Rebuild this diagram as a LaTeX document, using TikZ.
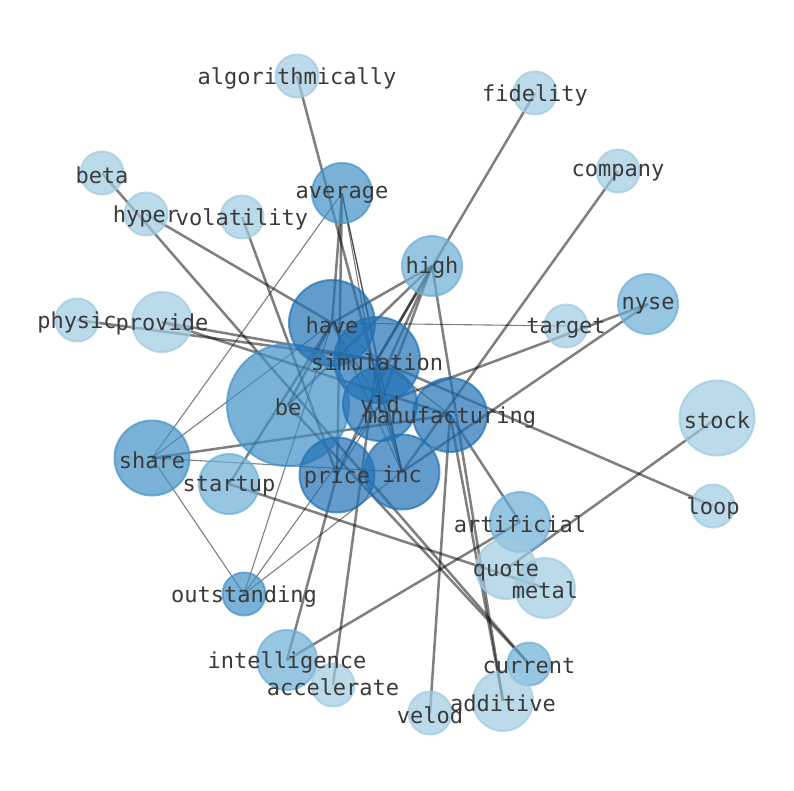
\documentclass[tikz,border=0pt]{standalone}
\usepackage{fontspec}
\newfontfamily\lbfont{DejaVu Sans Mono}
\usetikzlibrary{backgrounds}
\definecolor{Bone}{HTML}{9ECAE1}
\definecolor{Btwo}{HTML}{6BAED6}
\definecolor{Bthree}{HTML}{4292C6}
\definecolor{Bfour}{HTML}{2171B5}
\definecolor{txt}{RGB}{58,58,58}
\tikzset{
  nd/.style={circle, inner sep=0pt, line width=2pt, fill opacity=0.7, draw opacity=0.7},
  cone/.style={nd, fill=Bone, draw=Bone},
  ctwo/.style={nd, fill=Btwo, draw=Btwo},
  cthree/.style={nd, fill=Bthree, draw=Bthree},
  cfour/.style={nd, fill=Bfour, draw=Bfour},
  lbl/.style={font=\lbfont\fontsize{22}{24}\selectfont, text=txt, inner sep=0pt, yshift=-2pt},
  ek/.style={line width=2.5pt, draw=black, draw opacity=0.5},
  en/.style={line width=1.1pt, draw=black, draw opacity=0.5},
}
\begin{document}
\begin{tikzpicture}[x=1pt, y=-1pt]
\useasboundingbox (0,0) rectangle (794,790);
% nodes
\node[cone, minimum size=43pt] (algorithmically) at (297,76) {};
\node[cone, minimum size=43pt] (fidelity) at (535,93) {};
\node[cone, minimum size=43pt] (company) at (618,171) {};
\node[cone, minimum size=43pt] (beta) at (102,173) {};
\node[cone, minimum size=43pt] (hyper) at (146,214) {};
\node[cone, minimum size=43pt] (volatility) at (242,217) {};
\node[cthree, minimum size=60pt] (average) at (342,193) {};
\node[ctwo, minimum size=60pt] (high) at (432,266) {};
\node[ctwo, minimum size=60pt] (nyse) at (648,304) {};
\node[cone, minimum size=43pt] (target) at (566,326) {};
\node[cone, minimum size=43pt] (physic) at (77,320) {};
\node[cone, minimum size=60pt] (provide) at (162,322) {};
\node[cthree, minimum size=122pt] (be) at (288,405) {};
\node[cfour, minimum size=86pt] (have) at (332,323) {};
\node[cfour, minimum size=86pt] (simulation) at (377,360) {};
\node[cfour, minimum size=74pt] (yld) at (380,404) {};
\node[cfour, minimum size=74pt] (manufacturing) at (450,415) {};
\node[cone, minimum size=75pt] (stock) at (717,418) {};
\node[cthree, minimum size=75pt] (share) at (152,458) {};
\node[ctwo, minimum size=60pt] (startup) at (229,484) {};
\node[cfour, minimum size=75pt] (price) at (337,475) {};
\node[cfour, minimum size=75pt] (inc) at (402,472) {};
\node[cone, minimum size=43pt] (loop) at (713,506) {};
\node[ctwo, minimum size=60pt] (artificial) at (520,522) {};
\node[cone, minimum size=60pt] (quote) at (506,569) {};
\node[cone, minimum size=60pt] (metal) at (545,588) {};
\node[cthree, minimum size=43pt] (outstanding) at (244,594) {};
\node[ctwo, minimum size=60pt] (intelligence) at (287,660) {};
\node[cone, minimum size=43pt] (accelerate) at (333,685) {};
\node[ctwo, minimum size=43pt] (current) at (529,664) {};
\node[cone, minimum size=43pt] (velod) at (430,713) {};
\node[cone, minimum size=60pt] (additive) at (503,701) {};
% edges
\begin{pgfonlayer}{background}
\draw[ek] (algorithmically.center) -- (inc.center);
\draw[ek] (fidelity.center) -- (simulation.center);
\draw[ek] (company.center) -- (inc.center);
\draw[ek] (beta.center) -- (current.center);
\draw[ek] (hyper.center) -- (have.center);
\draw[ek] (volatility.center) -- (price.center);
\draw[ek] (physic.center) -- (simulation.center);
\draw[ek] (provide.center) -- (simulation.center);
\draw[ek] (provide.center) -- (manufacturing.center);
\draw[ek] (average.center) -- (have.center);
\draw[ek] (average.center) -- (price.center);
\draw[ek] (high.center) -- (have.center);
\draw[ek] (high.center) -- (be.center);
\draw[ek] (high.center) -- (yld.center);
\draw[ek] (high.center) -- (simulation.center);
\draw[ek] (high.center) -- (price.center);
\draw[ek] (high.center) -- (additive.center);
\draw[ek] (nyse.center) -- (yld.center);
\draw[ek] (nyse.center) -- (inc.center);
\draw[ek] (share.center) -- (manufacturing.center);
\draw[ek] (stock.center) -- (quote.center);
\draw[ek] (loop.center) -- (simulation.center);
\draw[ek] (startup.center) -- (metal.center);
\draw[ek] (startup.center) -- (have.center);
\draw[ek] (intelligence.center) -- (artificial.center);
\draw[ek] (intelligence.center) -- (price.center);
\draw[ek] (accelerate.center) -- (simulation.center);
\draw[ek] (velod.center) -- (manufacturing.center);
\draw[ek] (manufacturing.center) -- (additive.center);
\draw[ek] (manufacturing.center) -- (artificial.center);
\draw[ek] (be.center) -- (current.center);
\draw[ek] (have.center) -- (be.center);
\draw[ek] (simulation.center) -- (yld.center);
\draw[en] (average.center) -- (share.center);
\draw[en] (average.center) -- (yld.center);
\draw[en] (average.center) -- (inc.center);
\draw[en] (average.center) -- (simulation.center);
\draw[en] (share.center) -- (inc.center);
\draw[en] (share.center) -- (have.center);
\draw[en] (share.center) -- (outstanding.center);
\draw[en] (outstanding.center) -- (have.center);
\draw[en] (outstanding.center) -- (yld.center);
\draw[en] (outstanding.center) -- (inc.center);
\draw[en] (target.center) -- (have.center);
\draw[en] (have.center) -- (yld.center);
\draw[en] (have.center) -- (inc.center);
\draw[en] (have.center) -- (manufacturing.center);
\draw[en] (simulation.center) -- (inc.center);
\draw[en] (yld.center) -- (price.center);
\draw[en] (yld.center) -- (inc.center);
\end{pgfonlayer}
% labels
\node[lbl] (algorithmically-l) at (algorithmically) {algorithmically};
\node[lbl] (fidelity-l) at (fidelity) {fidelity};
\node[lbl] (company-l) at (company) {company};
\node[lbl] (beta-l) at (beta) {beta};
\node[lbl] (hyper-l) at (hyper) {hyper};
\node[lbl] (volatility-l) at (volatility) {volatility};
\node[lbl] (average-l) at (average) {average};
\node[lbl] (high-l) at (high) {high};
\node[lbl] (nyse-l) at (nyse) {nyse};
\node[lbl] (target-l) at (target) {target};
\node[lbl] (physic-l) at (physic) {physic};
\node[lbl] (provide-l) at (provide) {provide};
\node[lbl] (be-l) at (be) {be};
\node[lbl] (have-l) at (have) {have};
\node[lbl] (simulation-l) at (simulation) {simulation};
\node[lbl] (yld-l) at (yld) {yld};
\node[lbl] (manufacturing-l) at (manufacturing) {manufacturing};
\node[lbl] (stock-l) at (stock) {stock};
\node[lbl] (share-l) at (share) {share};
\node[lbl] (startup-l) at (startup) {startup};
\node[lbl] (price-l) at (price) {price};
\node[lbl] (inc-l) at (inc) {inc};
\node[lbl] (loop-l) at (loop) {loop};
\node[lbl] (artificial-l) at (artificial) {artificial};
\node[lbl] (quote-l) at (quote) {quote};
\node[lbl] (metal-l) at (metal) {metal};
\node[lbl] (outstanding-l) at (outstanding) {outstanding};
\node[lbl] (intelligence-l) at (intelligence) {intelligence};
\node[lbl] (accelerate-l) at (accelerate) {accelerate};
\node[lbl] (current-l) at (current) {current};
\node[lbl] (velod-l) at (velod) {velod};
\node[lbl] (additive-l) at (additive) {additive};
\end{tikzpicture}
\end{document}
